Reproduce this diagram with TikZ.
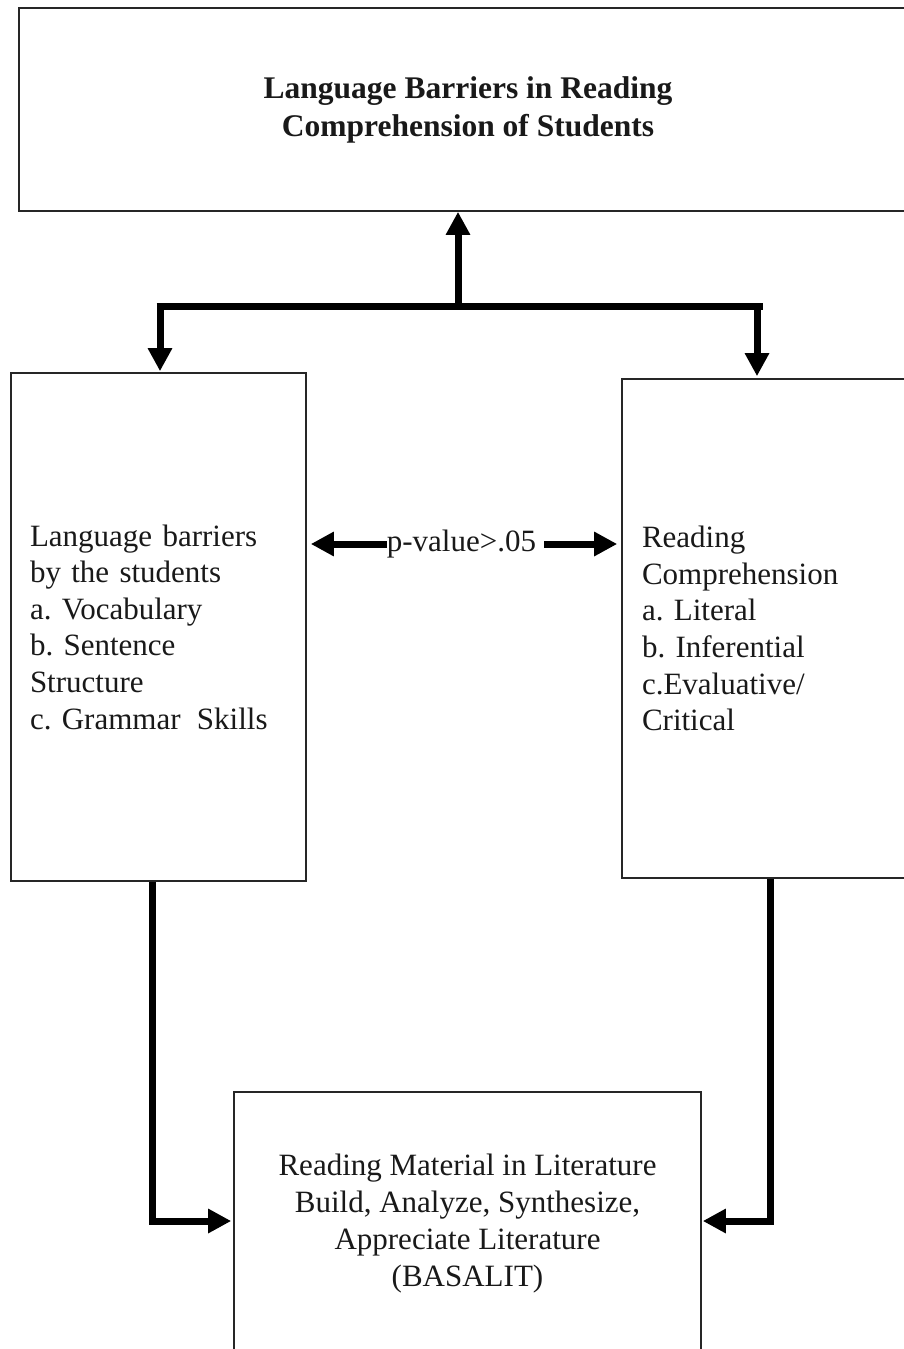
\documentclass[tikz,border=0pt]{standalone}
\usepackage{fontspec}
\setmainfont{Liberation Serif}
\usetikzlibrary{arrows.meta}
\frenchspacing
\tikzset{
  box/.style={draw=black!85, line width=1.6pt, inner ysep=0pt},
  bodytext/.style={font=\fontsize{31}{36.6}\selectfont\frenchspacing, text=black!90},
  shaft/.style={line width=7pt, draw=black},
  arr/.style={line width=7pt, draw=black, -{Triangle[width=23pt,length=23pt]}},
}
\begin{document}
\begin{tikzpicture}[x=1pt, y=-1pt]
\useasboundingbox (0,0) rectangle (904,1349);
\clip (0,0) rectangle (904,1349);
\fill[white] (0,0) rectangle (904,1349);
% boxes
\node[box, minimum width=898pt, minimum height=203pt, align=center,
      font=\fontsize{31.5}{38}\selectfont\bfseries, text=black!90]
  (T) at (468,109.5) {Language Barriers in Reading\\Comprehension of Students};
\node[box, bodytext, minimum width=295pt, minimum height=508pt, inner xsep=19pt,
      text width=257pt, align=left]
  (L) at (158.5,627) {Language barriers\\by the students\\a. Vocabulary\\b. Sentence\\Structure\\c. Grammar\hspace{6pt} Skills};
\node[box, bodytext, minimum width=308pt, minimum height=499pt, inner xsep=20pt,
      text width=268pt, align=left]
  (R) at (776,628.5) {Reading\\Comprehension\\a. Literal\\b. Inferential\\c.Evaluative/\\Critical};
\node[box, bodytext, minimum width=467pt, minimum height=263pt, align=center,
      font=\fontsize{31}{37.3}\selectfont\frenchspacing]
  (B) at (467.5,1223.5) {Reading Material in Literature\\Build, Analyze, Synthesize,\\Appreciate Literature\\(BASALIT)};
% p-value label
\node[bodytext, inner sep=0pt] (pv) at (461.5,544) {p-value>.05};
% top connectors
\coordinate (hub) at (458,306);
\coordinate (barL) at (156.5,306);
\coordinate (barR) at (763,306);
\coordinate (dL) at (160,306);
\coordinate (dR) at (757,306);
\draw[shaft] (barL) -- (barR);
\draw[arr] (hub) -- (hub |- T.south);
\draw[arr, shorten >=1pt] (dL) -- (dL |- L.north);
\draw[arr, shorten >=2pt] (dR) -- (dR |- R.north);
% p-value arrows
\draw[arr, shorten >=4pt] (pv.west) -- (pv.west -| L.east);
\draw[arr, shorten <=8pt, shorten >=4pt] (pv.east) -- (pv.east -| R.west);
% bottom connectors
\coordinate (cL) at (152,1221);
\coordinate (cR) at (770,1221);
\draw[arr, shorten >=2pt] (L.south -| cL) -- (cL) -- (B.west |- cL);
\draw[arr, shorten >=1pt] (R.south -| cR) -- (cR) -- (B.east |- cR);
\end{tikzpicture}
\end{document}
